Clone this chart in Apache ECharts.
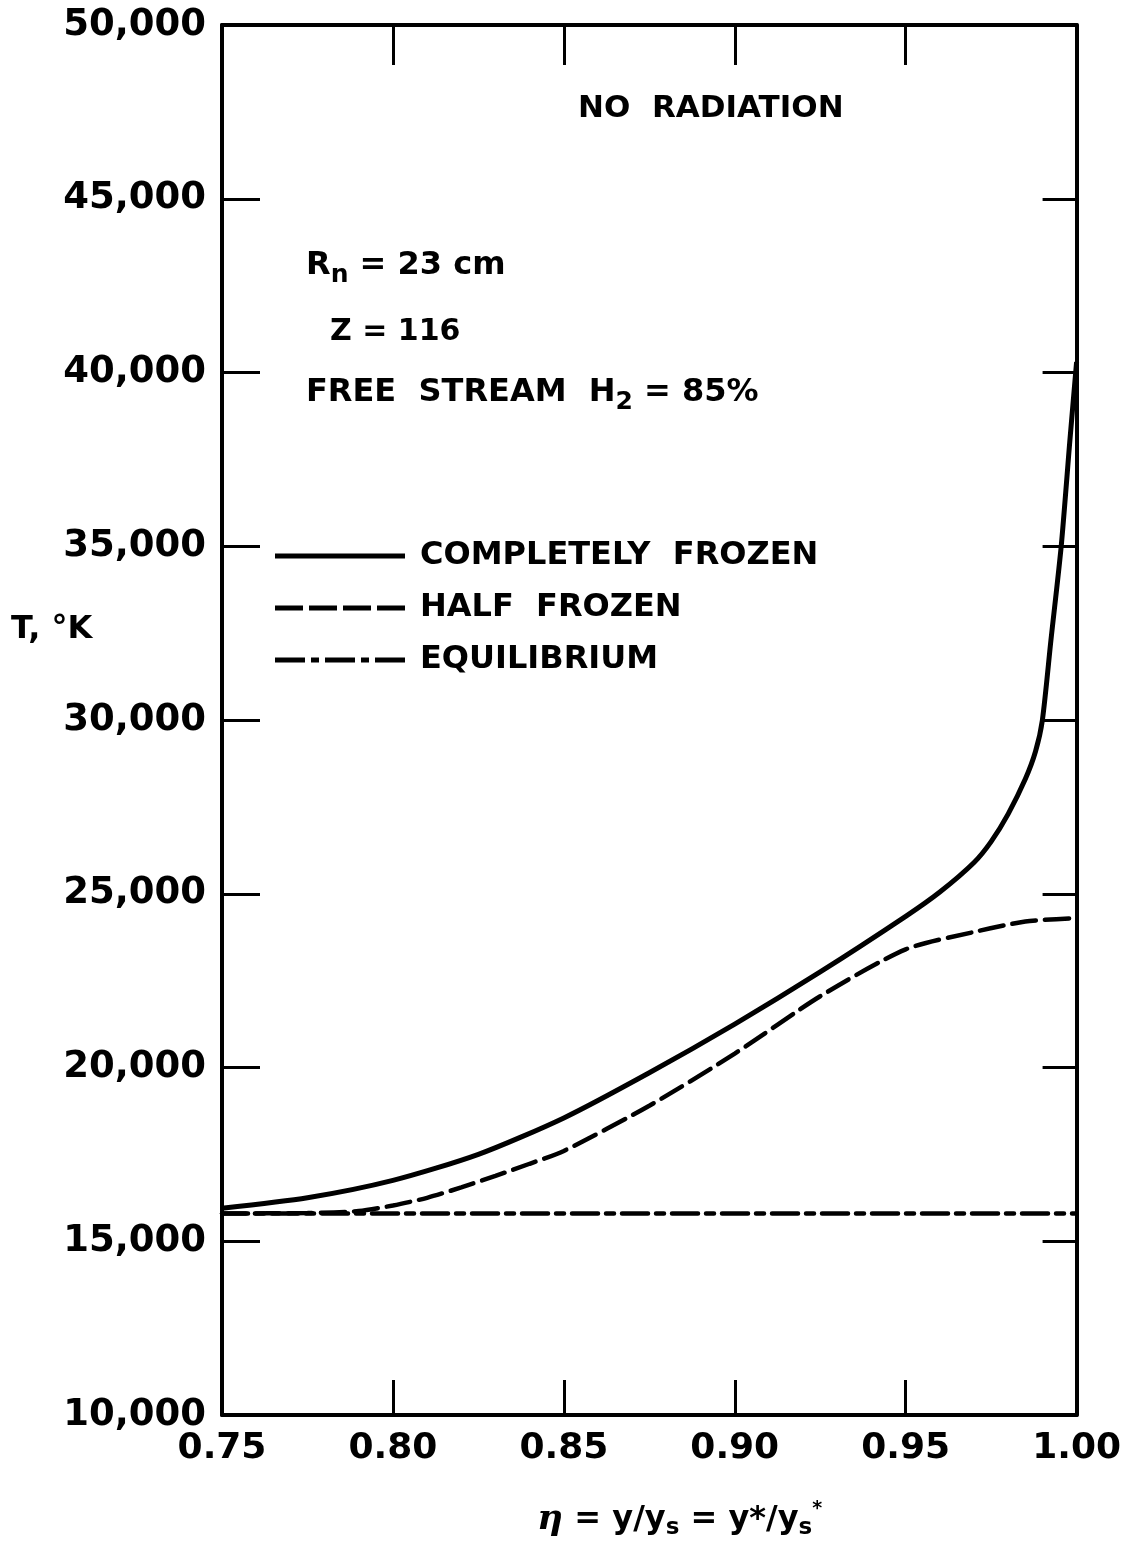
<!DOCTYPE html>
<html>
<head>
<meta charset="utf-8">
<title>T vs eta</title>
<script src="https://cdn.jsdelivr.net/npm/echarts@6/dist/echarts.min.js"></script>
<style>
  html, body { margin: 0; padding: 0; background: #fff; overflow: hidden; }
  #chart { width: 1124px; height: 1554px; }
</style>
</head>
<body>
<div id="chart"></div>
<script>
// values
const frozenEta = [0.75, 0.775, 0.80, 0.825, 0.85, 0.875, 0.90, 0.925, 0.95, 0.96, 0.97, 0.975, 0.98, 0.985, 0.988, 0.990, 0.9925, 0.9955, 0.998, 1.0]
const frozenT = [15950, 16250, 16750, 17500, 18550, 19850, 21250, 22750, 24350, 25050, 25900, 26500, 27300, 28300, 29100, 30000, 32300, 35000, 38000, 40300]

const halfEta = [0.75, 0.775, 0.79, 0.80, 0.81, 0.82, 0.83, 0.84, 0.85, 0.875, 0.90, 0.925, 0.95, 0.97, 0.985, 1.0]
const halfT = [15800, 15810, 15870, 16030, 16250, 16550, 16880, 17230, 17600, 18900, 20400, 22050, 23400, 23900, 24200, 24300]

const equilEta = [0.75, 0.80, 0.85, 0.90, 0.95, 1.0]
const equilT = [15800, 15800, 15800, 15800, 15800, 15800]

const xTicks = [0.75, 0.80, 0.85, 0.90, 0.95, 1.00]
const yTicks = [10000, 15000, 20000, 25000, 30000, 35000, 40000, 45000, 50000]

const seriesNames = ['COMPLETELY  FROZEN', 'HALF  FROZEN', 'EQUILIBRIUM']

const pairs = (xs, ys) => xs.map((x, i) => [x, ys[i]])

const font = 'DejaVu Sans'
const chart = echarts.init(document.getElementById('chart'))

const axisCommon = {
  axisLine: { show: true, lineStyle: { color: '#000', width: 4 } },
  splitLine: { show: false }
}

const subRich = {
  m: { fontFamily: font, fontWeight: 'bold', fontSize: 32, fill: '#000' },
  s: { fontFamily: font, fontWeight: 'bold', fontSize: 25, fill: '#000', verticalAlign: 'bottom', padding: [18, 0, 0, 0] }
}

// legend keys drawn as little line samples (solid / long dash / dash-dot)
const legendIcons = [
  'path://M0,0h130v5h-130z',
  'path://M0,0h28v5h-28z M34,0h28v5h-28z M68,0h28v5h-28z M102,0h28v5h-28z',
  'path://M0,0h30v5h-30z M36,0h8v5h-8z M50,0h30v5h-30z M86,0h8v5h-8z M100,0h30v5h-30z'
]

const option = {
  backgroundColor: '#fff',
  animation: false,
  grid: { left: 222, right: 41, top: 25, bottom: 139 },
  legend: {
    orient: 'vertical',
    left: 270,
    top: 535,
    itemWidth: 130,
    itemHeight: 5,
    itemGap: 20,
    data: seriesNames.map((name, i) => ({ name, icon: legendIcons[i] })),
    itemStyle: { color: '#000', borderWidth: 0 },
    textStyle: { fontFamily: font, fontWeight: 'bold', fontSize: 32, color: '#000', padding: [0, 0, 0, 10] }
  },
  xAxis: [
    {
      ...axisCommon,
      type: 'value',
      min: xTicks[0],
      max: xTicks[xTicks.length - 1],
      interval: 0.05,
      position: 'bottom',
      axisTick: { show: true, inside: true, length: 35, lineStyle: { color: '#000', width: 3 } },
      axisLabel: {
        margin: 16,
        fontFamily: font, fontWeight: 'bold', fontSize: 36, color: '#000',
        formatter: v => v.toFixed(2)
      }
    },
    {
      ...axisCommon,
      type: 'value',
      min: xTicks[0],
      max: xTicks[xTicks.length - 1],
      interval: 0.05,
      position: 'top',
      axisTick: { show: true, inside: true, length: 40, lineStyle: { color: '#000', width: 3 } },
      axisLabel: { show: false }
    }
  ],
  yAxis: [
    {
      ...axisCommon,
      type: 'value',
      min: yTicks[0],
      max: yTicks[yTicks.length - 1],
      interval: 5000,
      position: 'left',
      axisTick: { show: true, inside: true, length: 38, lineStyle: { color: '#000', width: 3 } },
      axisLabel: {
        margin: 16,
        fontFamily: font, fontWeight: 'bold', fontSize: 37, color: '#000',
        formatter: v => v.toLocaleString('en-US')
      }
    },
    {
      ...axisCommon,
      type: 'value',
      min: yTicks[0],
      max: yTicks[yTicks.length - 1],
      interval: 5000,
      position: 'right',
      axisTick: { show: true, inside: true, length: 34, lineStyle: { color: '#000', width: 3 } },
      axisLabel: { show: false }
    }
  ],
  series: [
    {
      name: seriesNames[0],
      type: 'line',
      data: pairs(frozenEta, frozenT),
      smooth: 0.25,
      symbol: 'none',
      lineStyle: { color: '#000', width: 5 },
      itemStyle: { color: '#000' },
      z: 5
    },
    {
      name: seriesNames[1],
      type: 'line',
      data: pairs(halfEta, halfT),
      smooth: 0.25,
      symbol: 'none',
      lineStyle: { color: '#000', width: 4.5, type: [24, 9], cap: 'round' },
      itemStyle: { color: '#000' }
    },
    {
      name: seriesNames[2],
      type: 'line',
      data: pairs(equilEta, equilT),
      symbol: 'none',
      lineStyle: { color: '#000', width: 4.5, type: [26, 8, 8, 8], cap: 'round' },
      itemStyle: { color: '#000' }
    }
  ],
  graphic: [
    {
      type: 'text', left: 578, top: 93,
      style: { text: 'NO  RADIATION', fontFamily: font, fontWeight: 'bold', fontSize: 31, fill: '#000' }
    },
    {
      type: 'text', left: 306, top: 250,
      style: { text: '{m|R}{s|n}{m| = 23 cm}', rich: subRich }
    },
    {
      type: 'text', left: 330, top: 317,
      style: { text: 'Z = 116', fontFamily: font, fontWeight: 'bold', fontSize: 30, fill: '#000' }
    },
    {
      type: 'text', left: 306, top: 377,
      style: { text: '{m|FREE  STREAM  H}{s|2}{m| = 85%}', rich: subRich }
    },
    {
      type: 'text', left: 11, top: 614,
      style: { text: 'T, °K', fontFamily: font, fontWeight: 'bold', fontSize: 32, fill: '#000' }
    },
    {
      type: 'text', left: 537, top: 1500,
      style: {
        text: '{i|η}{m| = y/y}{s|s}{m| = y*/y}{s|s}{p|*}',
        rich: {
          i: { fontFamily: 'DejaVu Serif', fontStyle: 'italic', fontWeight: 'bold', fontSize: 36, fill: '#000' },
          m: { fontFamily: font, fontWeight: 'bold', fontSize: 32, fill: '#000' },
          s: { fontFamily: font, fontWeight: 'bold', fontSize: 23, fill: '#000', verticalAlign: 'bottom', padding: [17, 0, 0, 0] },
          p: { fontFamily: font, fontWeight: 'bold', fontSize: 19, fill: '#000', verticalAlign: 'top' }
        }
      }
    }
  ]
}

chart.setOption(option)
window.addEventListener('resize', () => chart.resize())
</script>
</body>
</html>
